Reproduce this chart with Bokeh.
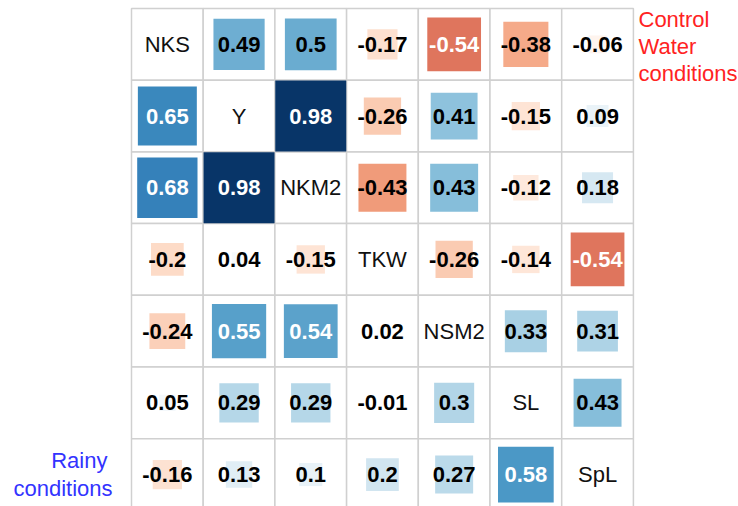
from bokeh.plotting import figure
from bokeh.models import ColumnDataSource, Range1d, Label
from bokeh.core.properties import value
from bokeh.embed import file_html
from bokeh.resources import INLINE

variables = ["NKS", "Y", "NKM2", "TKW", "NSM2", "SL", "SpL"]

# upper triangle: Control Water conditions ; lower triangle: Rainy conditions
row_NKS  = [None, 0.49, 0.5, -0.17, -0.54, -0.38, -0.06]
row_Y    = [0.65, None, 0.98, -0.26, 0.41, -0.15, 0.09]
row_NKM2 = [0.68, 0.98, None, -0.43, 0.43, -0.12, 0.18]
row_TKW  = [-0.2, 0.04, -0.15, None, -0.26, -0.14, -0.54]
row_NSM2 = [-0.24, 0.55, 0.54, 0.02, None, 0.33, 0.31]
row_SL   = [0.05, 0.29, 0.29, -0.01, 0.3, None, 0.43]
row_SpL  = [-0.16, 0.13, 0.1, 0.2, 0.27, 0.58, None]
matrix = [row_NKS, row_Y, row_NKM2, row_TKW, row_NSM2, row_SL, row_SpL]

ramp = ["#67001F", "#B2182B", "#D6604D", "#F4A582", "#FDDBC7", "#FFFFFF",
        "#D1E5F0", "#92C5DE", "#4393C3", "#2166AC", "#053061"]


def hex2rgb(h):
    h = h.lstrip("#")
    return [int(h[i:i + 2], 16) for i in (0, 2, 4)]


def color_for(r):
    t = (r + 1) / 2 * (len(ramp) - 1)
    i = min(int(t), len(ramp) - 2)
    f = t - i
    a, b = hex2rgb(ramp[i]), hex2rgb(ramp[i + 1])
    c = [round(a[k] + (b[k] - a[k]) * f) for k in range(3)]
    return "#%02x%02x%02x" % tuple(c)


n = len(variables)
cell_x, cell_y = [], []
sx, sy, ssize, scol, stext, stcol = [], [], [], [], [], []
dx, dy, dtext = [], [], []
for i, row in enumerate(matrix):
    for j, r in enumerate(row):
        cx, cy = j + 0.5, n - 0.5 - i
        cell_x.append(cx)
        cell_y.append(cy)
        if r is None:
            dx.append(cx)
            dy.append(cy)
            dtext.append(variables[i])
        else:
            sx.append(cx)
            sy.append(cy)
            ssize.append(min(abs(r) ** 0.5 * 1.02, 0.99))
            scol.append(color_for(r))
            stext.append(("%g" % r))
            stcol.append("#ffffff" if abs(r) > 0.52 else "#000000")

cell = 71.7
W, H = 738, 506
left_px, top_px = 131, 8
x0 = -left_px / cell
y1 = n + top_px / cell
p = figure(width=W, height=H, output_backend="svg", toolbar_location=None,
           x_range=Range1d(x0, x0 + W / cell), y_range=Range1d(y1 - H / cell, y1),
           min_border=0, min_border_left=0, min_border_right=0,
           min_border_top=0, min_border_bottom=0)
p.axis.visible = False
p.grid.visible = False
p.outline_line_color = None
p.background_fill_color = "white"
p.border_fill_color = "white"

p.rect(x=cell_x, y=cell_y, width=1, height=1, fill_color="white",
       line_color="#d0d0d0", line_width=1.5)

src = ColumnDataSource(dict(x=sx, y=sy, s=ssize, c=scol, t=stext, tc=stcol))
p.rect(x="x", y="y", width="s", height="s", fill_color="c", line_color=None, source=src)
p.text(x="x", y="y", text="t", text_color="tc", source=src,
       text_font=value("Liberation Sans"), text_font_size="22px",
       text_font_style="bold", text_align="center", text_baseline="middle")

dsrc = ColumnDataSource(dict(x=dx, y=dy, t=dtext))
p.text(x="x", y="y", text="t", source=dsrc, text_color="#111111",
       text_font=value("Liberation Sans"), text_font_size="22px",
       text_align="center", text_baseline="middle")

red = "#ff2222"
for k, line in enumerate(["Control", "Water", "conditions"]):
    p.add_layout(Label(x=7.071, y=6.85 - k * 0.377, text=line, text_color=red,
                       text_font="Liberation Sans", text_font_size="22px",
                       text_align="left", text_baseline="alphabetic"))

blue = "#3333ff"
p.add_layout(Label(x=-0.335, y=0.69, text="Rainy", text_color=blue,
                   text_font="Liberation Sans", text_font_size="22px",
                   text_align="right", text_baseline="alphabetic"))
p.add_layout(Label(x=-0.265, y=0.30, text="conditions", text_color=blue,
                   text_font="Liberation Sans", text_font_size="22px",
                   text_align="right", text_baseline="alphabetic"))

open("out.html", "w").write(file_html(p, INLINE))
